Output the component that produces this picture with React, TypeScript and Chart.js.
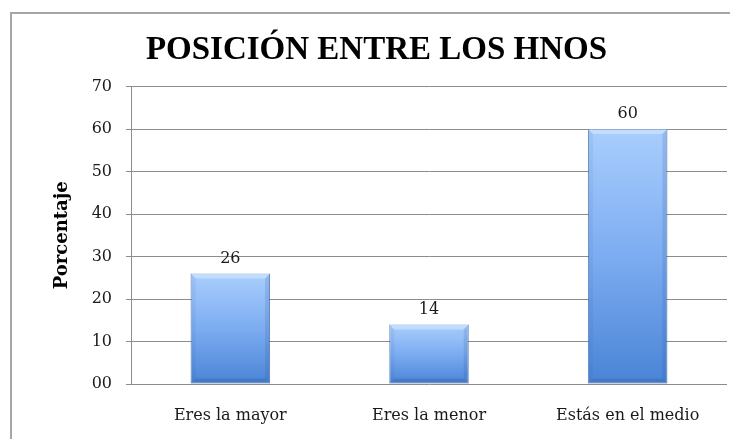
import React, { useEffect, useRef } from "react";
import { Chart, registerables } from "chart.js";

Chart.register(...registerables);

const chartTitle = "POSICIÓN ENTRE LOS HNOS";
const yAxisTitle = "Porcentaje";
const categories = ["Eres la mayor", "Eres la menor", "Estás en el medio"];
const values = [26, 14, 60];
const yTickValues = [0, 10, 20, 30, 40, 50, 60, 70];
const yTickLabels = ["00", "10", "20", "30", "40", "50", "60", "70"];

const framePlugin = {
  id: "frame",
  beforeDraw(chart: any) {
    const ctx = chart.ctx;
    ctx.save();
    ctx.fillStyle = "#ffffff";
    ctx.fillRect(0, 0, chart.width, chart.height);
    ctx.strokeStyle = "#a6a6a6";
    ctx.lineWidth = 2;
    ctx.beginPath();
    ctx.moveTo(11, chart.height + 5);
    ctx.lineTo(11, 13);
    ctx.lineTo(chart.width + 5, 13);
    ctx.stroke();
    ctx.restore();
  },
};

const barDecorPlugin = {
  id: "barDecor",
  afterDatasetsDraw(chart: any) {
    const ctx = chart.ctx;
    const meta = chart.getDatasetMeta(0);
    ctx.save();
    meta.data.forEach((bar: any, i: number) => {
      const { x, y, base, width } = bar.getProps(["x", "y", "base", "width"], true);
      const l = x - width / 2;
      const r = x + width / 2;
      const bev = 5;
      ctx.fillStyle = "rgba(220,238,255,0.5)";
      ctx.beginPath();
      ctx.moveTo(l, y);
      ctx.lineTo(r, y);
      ctx.lineTo(r - bev, y + bev);
      ctx.lineTo(l + bev, y + bev);
      ctx.closePath();
      ctx.fill();
      ctx.fillStyle = "rgba(40,80,150,0.16)";
      ctx.beginPath();
      ctx.moveTo(r, y);
      ctx.lineTo(r, base);
      ctx.lineTo(r - bev, base - bev);
      ctx.lineTo(r - bev, y + bev);
      ctx.closePath();
      ctx.fill();
      ctx.fillStyle = "rgba(40,80,150,0.08)";
      ctx.beginPath();
      ctx.moveTo(l, y);
      ctx.lineTo(l, base);
      ctx.lineTo(l + bev, base - bev);
      ctx.lineTo(l + bev, y + bev);
      ctx.closePath();
      ctx.fill();
      ctx.fillStyle = "rgba(30,60,120,0.18)";
      ctx.beginPath();
      ctx.moveTo(l, base);
      ctx.lineTo(r, base);
      ctx.lineTo(r - bev, base - bev);
      ctx.lineTo(l + bev, base - bev);
      ctx.closePath();
      ctx.fill();
      ctx.fillStyle = "#1a1a1a";
      ctx.font = "16px 'DejaVu Serif'";
      ctx.textAlign = "center";
      ctx.textBaseline = "alphabetic";
      ctx.fillText(String(values[i]), x, y - 11);
    });
    ctx.restore();
  },
};

export default function App() {
  const ref = useRef<HTMLCanvasElement>(null);
  useEffect(() => {
    if (!ref.current) return;
    const chart = new Chart(ref.current, {
      type: "bar",
      data: {
        labels: categories,
        datasets: [
          {
            data: values,
            barPercentage: 0.4,
            categoryPercentage: 1,
            borderWidth: 1,
            borderColor: "rgba(50,95,165,0.7)",
            borderSkipped: false,
            backgroundColor: (c: any) => {
              const chart = c.chart;
              const ys = chart.scales?.y;
              if (!ys || c.dataIndex === undefined) return "#78a8ee";
              const top = ys.getPixelForValue(values[c.dataIndex]);
              const bot = ys.getPixelForValue(0);
              if (!isFinite(top) || !isFinite(bot) || top === bot) return "#78a8ee";
              const g = chart.ctx.createLinearGradient(0, top, 0, bot);
              g.addColorStop(0, "#a9cefd");
              g.addColorStop(0.5, "#7cacf1");
              g.addColorStop(1, "#4a84d6");
              return g;
            },
          },
        ],
      },
      options: {
        animation: false,
        responsive: false,
        maintainAspectRatio: false,
        layout: { padding: { left: 26, right: 3, top: 0, bottom: 0 } },
        plugins: {
          legend: { display: false },
          tooltip: { enabled: false },
          title: {
            display: true,
            text: chartTitle,
            color: "#000000",
            font: { family: "'Liberation Serif'", size: 33, weight: "bold", lineHeight: 1.2 },
            padding: { top: 31, bottom: 16 },
          },
        },
        scales: {
          x: {
            grid: { display: false },
            border: { display: false },
            ticks: {
              color: "#1a1a1a",
              font: { family: "'DejaVu Serif'", size: 16 },
              padding: 14,
              maxRotation: 0,
            },
            afterFit: (s: any) => {
              s.height = 55;
            },
          },
          y: {
            min: 0,
            max: 70,
            afterBuildTicks: (s: any) => {
              s.ticks = yTickValues.map((v) => ({ value: v }));
            },
            grid: { color: "#8c8c8c", lineWidth: 1, tickLength: 5, drawTicks: true },
            border: { display: true, color: "#8c8c8c", width: 1 },
            ticks: {
              color: "#1a1a1a",
              font: { family: "'DejaVu Serif'", size: 16 },
              padding: 14,
              callback: (v: any) => {
                const idx = yTickValues.indexOf(Number(v));
                return idx >= 0 ? yTickLabels[idx] : "";
              },
            },
            title: {
              display: true,
              text: yAxisTitle,
              color: "#000000",
              font: { family: "'DejaVu Serif'", size: 18, weight: "bold", lineHeight: 1.2 },
              padding: { top: 26, bottom: 0 },
            },
            afterFit: (s: any) => {
              s.width = 105;
            },
          },
        },
      },
      plugins: [framePlugin, barDecorPlugin],
    });
    return () => chart.destroy();
  }, []);
  return (
    <div style={{ position: "fixed", left: 0, top: 0, width: 730, height: 439 }}>
      <canvas ref={ref} width={730} height={439} style={{ display: "block", width: 730, height: 439 }} />
    </div>
  );
}
